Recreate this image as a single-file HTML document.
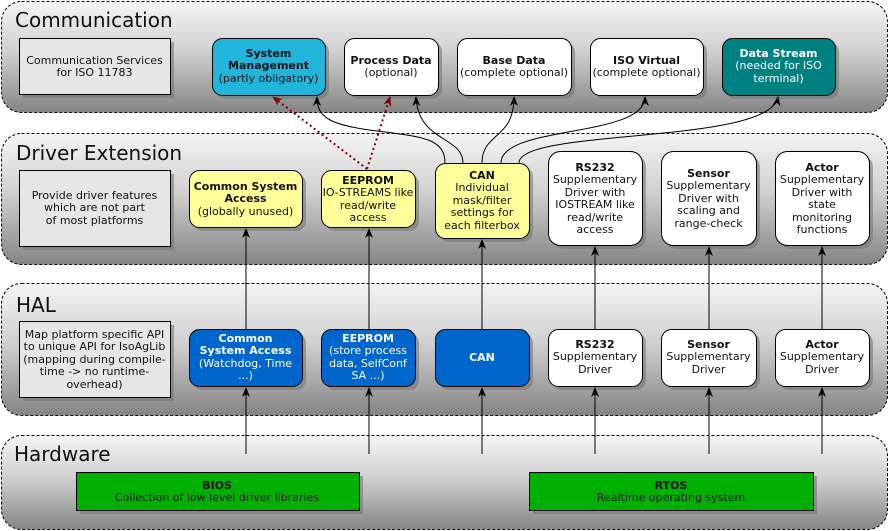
<!DOCTYPE html>
<html><head><meta charset="utf-8"><style>
html,body{margin:0;padding:0;background:#fff;}
svg{display:block;font-family:"DejaVu Sans","Liberation Sans",sans-serif;}
</style></head><body>
<svg width="890" height="531" viewBox="0 0 890 531" xmlns="http://www.w3.org/2000/svg">
<defs>
<linearGradient id="g" x1="0" y1="0" x2="0" y2="1">
<stop offset="0" stop-color="#f4f4f4"/><stop offset="0.45" stop-color="#d0d0d0"/><stop offset="1" stop-color="#858585"/>
</linearGradient>
<marker id="a" markerWidth="10" markerHeight="10" refX="9" refY="4" orient="auto" markerUnits="userSpaceOnUse"><path d="M0,0 L10,4 L0,8 L3,4 Z" fill="#000"/></marker>
<marker id="r" markerWidth="10" markerHeight="10" refX="9" refY="4" orient="auto" markerUnits="userSpaceOnUse"><path d="M0,0 L10,4 L0,8 L3,4 Z" fill="#800000"/></marker>
</defs>
<g stroke="#000" stroke-width="1" stroke-dasharray="3,2" fill="url(#g)">
<rect x="1.5" y="1.5" width="886" height="111" rx="20"/>
<rect x="1.5" y="133.5" width="886" height="131" rx="20"/>
<rect x="1.5" y="283.5" width="886" height="132" rx="20"/>
<rect x="1.5" y="435.5" width="886" height="94" rx="20"/>
</g>
<g font-size="20" fill="#111">
<text x="15" y="27">Communication</text>
<text x="16" y="160">Driver Extension</text>
<text x="16" y="312">HAL</text>
<text x="14" y="461">Hardware</text>
</g>
<!-- shadows -->
<g fill="#777" opacity="0.6">
<rect x="23" y="42" width="151" height="56"/>
<rect x="216" y="42" width="113" height="57" rx="10"/>
<rect x="348" y="42" width="94" height="57" rx="10"/>
<rect x="461" y="42" width="114" height="57" rx="10"/>
<rect x="594" y="42" width="113" height="57" rx="10"/>
<rect x="726" y="42" width="113" height="57" rx="10"/>
<rect x="23" y="174" width="151" height="76"/>
<rect x="193" y="174" width="113" height="57" rx="10"/>
<rect x="325" y="174" width="94" height="57" rx="10"/>
<rect x="439" y="167" width="94" height="75" rx="10"/>
<rect x="552" y="155" width="94" height="94" rx="12"/>
<rect x="665" y="155" width="95" height="94" rx="12"/>
<rect x="779" y="155" width="94" height="94" rx="12"/>
<rect x="23" y="325" width="151" height="76"/>
<rect x="193" y="333" width="113" height="57" rx="10"/>
<rect x="325" y="333" width="94" height="57" rx="10"/>
<rect x="439" y="333" width="94" height="57" rx="10"/>
<rect x="552" y="333" width="94" height="57" rx="10"/>
<rect x="665" y="333" width="95" height="57" rx="10"/>
<rect x="779" y="333" width="94" height="57" rx="10"/>
<rect x="80" y="476" width="283" height="38"/>
<rect x="533" y="476" width="284" height="38"/>
</g>
<g stroke="#000" stroke-width="1">
<rect x="19.5" y="38.5" width="151" height="56" fill="#e6e6e6"/>
<rect x="212.5" y="38.5" width="113" height="57" rx="10" fill="#22b5dc"/>
<rect x="344.5" y="38.5" width="94" height="57" rx="10" fill="#fff"/>
<rect x="457.5" y="38.5" width="114" height="57" rx="10" fill="#fff"/>
<rect x="590.5" y="38.5" width="113" height="57" rx="10" fill="#fff"/>
<rect x="722.5" y="38.5" width="113" height="57" rx="10" fill="#008080"/>
<rect x="19.5" y="170.5" width="151" height="76" fill="#e6e6e6"/>
<rect x="189.5" y="170.5" width="113" height="57" rx="10" fill="#ffff99"/>
<rect x="321.5" y="170.5" width="94" height="57" rx="10" fill="#ffff99"/>
<rect x="435.5" y="163.5" width="94" height="75" rx="10" fill="#ffff99"/>
<rect x="548.5" y="151.5" width="94" height="94" rx="12" fill="#fff"/>
<rect x="661.5" y="151.5" width="95" height="94" rx="12" fill="#fff"/>
<rect x="775.5" y="151.5" width="94" height="94" rx="12" fill="#fff"/>
<rect x="19.5" y="321.5" width="151" height="76" fill="#e6e6e6"/>
<rect x="189.5" y="329.5" width="113" height="57" rx="10" fill="#0066cc"/>
<rect x="321.5" y="329.5" width="94" height="57" rx="10" fill="#0066cc"/>
<rect x="435.5" y="329.5" width="94" height="57" rx="10" fill="#0066cc"/>
<rect x="548.5" y="329.5" width="94" height="57" rx="10" fill="#fff"/>
<rect x="661.5" y="329.5" width="95" height="57" rx="10" fill="#fff"/>
<rect x="775.5" y="329.5" width="94" height="57" rx="10" fill="#fff"/>
<rect x="76.5" y="472.5" width="283" height="38" fill="#00b000"/>
<rect x="529.5" y="472.5" width="284" height="38" fill="#00b000"/>
</g>
<!-- connectors -->
<g stroke="#000" stroke-width="1" fill="none" marker-end="url(#a)">
<path d="M246,454 V388"/><path d="M369,454 V388"/><path d="M482,454 V388"/><path d="M595,454 V388"/><path d="M709,454 V388"/><path d="M822,454 V388"/>
<path d="M246,329 V229"/><path d="M369,329 V229"/><path d="M482,329 V240"/><path d="M595,329 V247"/><path d="M709,329 V247"/><path d="M822,329 V247"/>
<path d="M445,163 C445,140 425,137 385,132 C330,126 317,118 317,97"/>
<path d="M463,163 C463,136 418,142 416,97"/>
<path d="M482,163 C482,132 514,140 514,97"/>
<path d="M501,163 C501,125 645,138 645,97"/>
<path d="M519,163 C519,128 770,145 778,97"/>
</g>
<g stroke="#800000" stroke-width="2" stroke-dasharray="2,3" fill="none" marker-end="url(#r)">
<path d="M367,169 L273,97"/>
<path d="M367,169 L390,97"/>
</g>
<g font-size="11" text-anchor="middle" fill="#111">
<text x="94.5" y="64">Communication Services</text><text x="94.5" y="76">for ISO 11783</text>
<text x="268.5" y="57" font-weight="bold">System</text><text x="268.5" y="69" font-weight="bold">Management</text><text x="268.5" y="82">(partly obligatory)</text>
<text x="391" y="64" font-weight="bold">Process Data</text><text x="391" y="76">(optional)</text>
<text x="514" y="64" font-weight="bold">Base Data</text><text x="514" y="76">(complete optional)</text>
<text x="646.5" y="64" font-weight="bold">ISO Virtual</text><text x="646.5" y="76">(complete optional)</text>
<g fill="#fff"><text x="778.5" y="57" font-weight="bold">Data Stream</text><text x="778.5" y="69">(needed for ISO</text><text x="778.5" y="82">terminal)</text></g>

<text x="94.5" y="199">Provide driver features</text><text x="94.5" y="211">which are not part</text><text x="94.5" y="224">of most platforms</text>
<text x="245.5" y="190" font-weight="bold">Common System</text><text x="245.5" y="202" font-weight="bold">Access</text><text x="245.5" y="215">(globally unused)</text>
<text x="368" y="184" font-weight="bold">EEPROM</text><text x="368" y="196">IO-STREAMS like</text><text x="368" y="209">read/write</text><text x="368" y="221">access</text>
<text x="482" y="179" font-weight="bold">CAN</text><text x="482" y="191">Individual</text><text x="482" y="204">mask/filter</text><text x="482" y="216">settings for</text><text x="482" y="229">each filterbox</text>
<text x="595" y="171" font-weight="bold">RS232</text><text x="595" y="183">Supplementary</text><text x="595" y="196">Driver with</text><text x="595" y="208">IOSTREAM like</text><text x="595" y="221">read/write</text><text x="595" y="233">access</text>
<text x="708.5" y="177" font-weight="bold">Sensor</text><text x="708.5" y="189">Supplementary</text><text x="708.5" y="202">Driver with</text><text x="708.5" y="214">scaling and</text><text x="708.5" y="227">range-check</text>
<text x="822" y="171" font-weight="bold">Actor</text><text x="822" y="183">Supplementary</text><text x="822" y="196">Driver with</text><text x="822" y="208">state</text><text x="822" y="221">monitoring</text><text x="822" y="233">functions</text>

<text x="94.5" y="338">Map platform specific API</text><text x="94.5" y="350">to unique API for IsoAgLib</text><text x="94.5" y="363">(mapping during compile-</text><text x="94.5" y="375">time -&gt; no runtime-</text><text x="94.5" y="388">overhead)</text>
<g fill="#fff">
<text x="245.5" y="342" font-weight="bold">Common</text><text x="245.5" y="354" font-weight="bold">System Access</text><text x="245.5" y="367">(Watchdog, Time</text><text x="245.5" y="379">...)</text>
<text x="368" y="342" font-weight="bold">EEPROM</text><text x="368" y="354">(store process</text><text x="368" y="367">data, SelfConf</text><text x="368" y="379">SA ...)</text>
<text x="482" y="361" font-weight="bold">CAN</text>
</g>
<text x="595" y="348" font-weight="bold">RS232</text><text x="595" y="360">Supplementary</text><text x="595" y="373">Driver</text>
<text x="708.5" y="348" font-weight="bold">Sensor</text><text x="708.5" y="360">Supplementary</text><text x="708.5" y="373">Driver</text>
<text x="822" y="348" font-weight="bold">Actor</text><text x="822" y="360">Supplementary</text><text x="822" y="373">Driver</text>

<text x="217" y="489" font-weight="bold">BIOS</text><text x="217" y="501">Collection of low level driver libraries</text>
<text x="671" y="489" font-weight="bold">RTOS</text><text x="671" y="501">Realtime operating system</text>
</g>
</svg>
</body></html>
